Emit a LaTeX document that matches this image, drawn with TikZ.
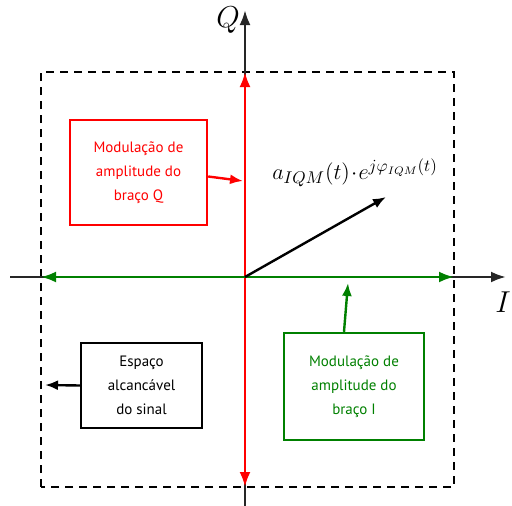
\documentclass[tikz,border=0pt]{standalone}
\usepackage{graphicx}
\usepackage{fontspec}
\setsansfont{PT Sans}
\usepackage{xcolor}
\usepackage{tikz}
\usetikzlibrary{arrows.meta,positioning,calc}
\definecolor{qcolor}{RGB}{255,0,0}
\definecolor{icolor}{RGB}{0,128,0}

\begin{document}
\begin{tikzpicture}[
    x=1pt, y=-1pt,
    font=\sffamily\fontsize{15}{24}\selectfont,
    armbox/.style={rectangle, draw=#1, text=#1, line width=2.4pt, align=center, inner sep=0pt},
    axisflow/.style={-{Latex[length=15pt,width=11pt]}, line width=2.6pt, draw=black!85},
    armflow/.style={{Latex[length=15pt,width=11pt]}-{Latex[length=15pt,width=11pt]}, line width=2.6pt, draw=#1},
    flow/.style={-{Latex[length=13pt,width=10pt]}, line width=2.4pt, draw=#1},
    region/.style={dashed, dash pattern=on 8pt off 6pt, line width=1.8pt}
]
    \useasboundingbox (0,0) rectangle (512,506);

    % dashed region and axes
    \coordinate (O) at (245,277);
    \coordinate (bl) at (41,487);
    \coordinate (tr) at (454,72);
    \draw[region] (bl) rectangle (tr);

    \coordinate (qtop) at (245,10);
    \coordinate (qbot) at (245,506);
    \coordinate (ileft) at (10,277);
    \coordinate (iright) at (506,277);
    \draw[axisflow] (qbot) -- (qtop);
    \draw[axisflow] (ileft) -- (iright);

    \node (qlabel) at (228,20) {\scalebox{2.1}{$Q$}};
    \node (ilabel) at (503,302) {\scalebox{2.1}{$I$}};

    % amplitude arms
    \coordinate (qa) at (245,72);
    \coordinate (qb) at (245,487);
    \coordinate (ia) at (41,277);
    \coordinate (ib) at (454,277);
    \draw[armflow=qcolor] (qb) -- (qa);
    \draw[armflow=icolor] (ia) -- (ib);

    % signal vector
    \coordinate (tip) at (386,197);
    \draw[flow=black] (O) -- (tip);
    \node (formula) at (355,173) {\scalebox{1.55}{$a_{IQM}(t)\!\cdot\! e^{j\varphi_{IQM}(t)}$}};

    % labels
    \node[armbox=qcolor, minimum width=137pt, minimum height=105pt] (qarm) at (138.5,172.5) {Modulação de\\amplitude do\\braço Q};
    \node[armbox=icolor, minimum width=140pt, minimum height=107pt] (iarm) at (354,386.5) {Modulação de\\amplitude do\\braço I};
    \node[armbox=black, minimum width=121pt, minimum height=85pt] (reach) at (141.5,385.5) {Espaço\\alcancável\\do sinal};

    \coordinate (qhit) at (243,181);
    \coordinate (ihit) at (348,283);
    \coordinate (rhit) at (45,385);
    \draw[flow=qcolor] ($(qarm.east)+(0,4)$) -- (qhit);
    \draw[flow=icolor] ($(iarm.north)+(-10,0)$) -- (ihit);
    \draw[flow=black] (reach.west) -- (rhit);

\end{tikzpicture}
\end{document}
